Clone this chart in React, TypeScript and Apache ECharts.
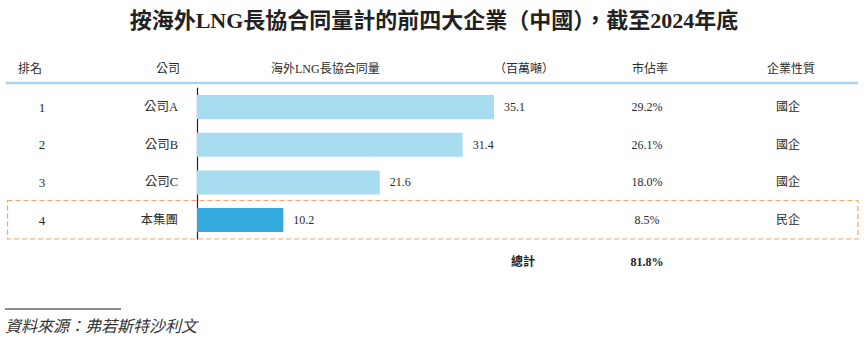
import React, { useEffect, useRef } from "react";
import * as echarts from "echarts";

const titleText = "按海外LNG長協合同量計的前四大企業（中國），截至2024年底";
const ranks = ["1", "2", "3", "4"];
const companies = ["公司A", "公司B", "公司C", "本集團"];
const volumes = [35.1, 31.4, 21.6, 10.2];
const shares = ["29.2%", "26.1%", "18.0%", "8.5%"];
const natures = ["國企", "國企", "國企", "民企"];
const highlightIndex = 3;
const totalLabel = "總計";
const totalShare = "81.8%";
const sourceText = "資料來源：弗若斯特沙利文";

const FONT = "'Liberation Serif', 'Noto Sans CJK TC', serif";
const TXT = "#2b2b2b";

export default function App() {
  const ref = useRef<HTMLDivElement>(null);
  useEffect(() => {
    if (!ref.current) return;
    const chart = echarts.init(ref.current, undefined, { renderer: "svg" });
    const gridLeft = 197;
    const gridWidth = 338.4;
    const gridRightEdge = gridLeft + gridWidth;
    const rankX = 42;
    const shareX = 647;
    const natureX = 788;

    const hdr = (text: string, x: number, align: string) => ({
      type: "text",
      x,
      y: 69,
      style: { text, fill: TXT, font: `12px ${FONT}`, align, verticalAlign: "middle" },
    });

    const catAxisBase = {
      type: "category",
      data: companies,
      inverse: true,
      axisTick: { show: false },
      axisLine: { show: false },
      splitLine: { show: false },
    };

    chart.setOption({
      animation: false,
      grid: { left: gridLeft, top: 88.2, width: gridWidth, height: 150.7, containLabel: false },
      xAxis: {
        type: "value",
        min: 0,
        max: 40,
        show: false,
      },
      yAxis: [
        {
          ...catAxisBase,
          position: "left",
          axisLine: { show: true, lineStyle: { color: "#222", width: 1.2 } },
          axisLabel: { margin: 19, color: TXT, fontSize: 12.5, fontFamily: FONT },
        },
        {
          ...catAxisBase,
          data: ranks,
          position: "left",
          offset: gridLeft - rankX,
          axisLabel: { margin: 0, align: "center", color: TXT, fontSize: 13, fontFamily: FONT },
        },
        {
          ...catAxisBase,
          data: shares,
          position: "right",
          offset: shareX - gridRightEdge,
          axisLabel: { margin: 0, align: "center", color: TXT, fontSize: 12, fontFamily: FONT },
        },
        {
          ...catAxisBase,
          data: natures,
          position: "right",
          offset: natureX - gridRightEdge,
          axisLabel: { margin: 0, align: "center", color: TXT, fontSize: 12, fontFamily: FONT },
        },
      ],
      series: [
        {
          type: "bar",
          yAxisIndex: 0,
          barWidth: 24,
          data: volumes.map((v, i) => ({
            value: v,
            itemStyle: { color: i === highlightIndex ? "#33a9dd" : "#a8ddf1" },
          })),
          label: {
            show: true,
            position: "right",
            distance: 10,
            color: TXT,
            fontSize: 12,
            fontFamily: FONT,
          },
        },
      ],
      graphic: [
        {
          type: "text",
          x: 434,
          y: 20,
          style: {
            text: titleText,
            fill: "#222",
            font: `bold 22px ${FONT}`,
            align: "center",
            verticalAlign: "middle",
          },
        },
        hdr("排名", 18, "left"),
        hdr("公司", 180, "right"),
        hdr("海外LNG長協合同量", 271, "left"),
        hdr("（百萬噸）", 524, "center"),
        hdr("市佔率", 650, "center"),
        hdr("企業性質", 791, "center"),
        {
          type: "line",
          shape: { x1: 6, y1: 83, x2: 858, y2: 83 },
          style: { stroke: "#a3d6ee", lineWidth: 2.5 },
        },
        {
          type: "rect",
          shape: { x: 7.5, y: 200.5, width: 850.5, height: 38.5 },
          style: { fill: "none", stroke: "#f3a56b", lineWidth: 1.2, lineDash: [5, 3] },
        },
        {
          type: "text",
          x: 511,
          y: 262,
          style: { text: totalLabel, fill: "#222", font: `bold 12px ${FONT}`, align: "left", verticalAlign: "middle" },
        },
        {
          type: "text",
          x: shareX,
          y: 262,
          style: { text: totalShare, fill: "#222", font: `bold 12px ${FONT}`, align: "center", verticalAlign: "middle" },
        },
        {
          type: "line",
          shape: { x1: 5, y1: 309, x2: 121, y2: 309 },
          style: { stroke: "#666", lineWidth: 1.5 },
        },
        {
          type: "text",
          x: 5,
          y: 326,
          style: {
            text: sourceText,
            fill: "#333",
            font: `italic 16px ${FONT}`,
            align: "left",
            verticalAlign: "middle",
          },
        },
      ],
    });
    return () => chart.dispose();
  }, []);
  return (
    <div
      ref={ref}
      style={{ position: "fixed", left: 0, top: 0, width: 868, height: 343, background: "#fff" }}
    />
  );
}
